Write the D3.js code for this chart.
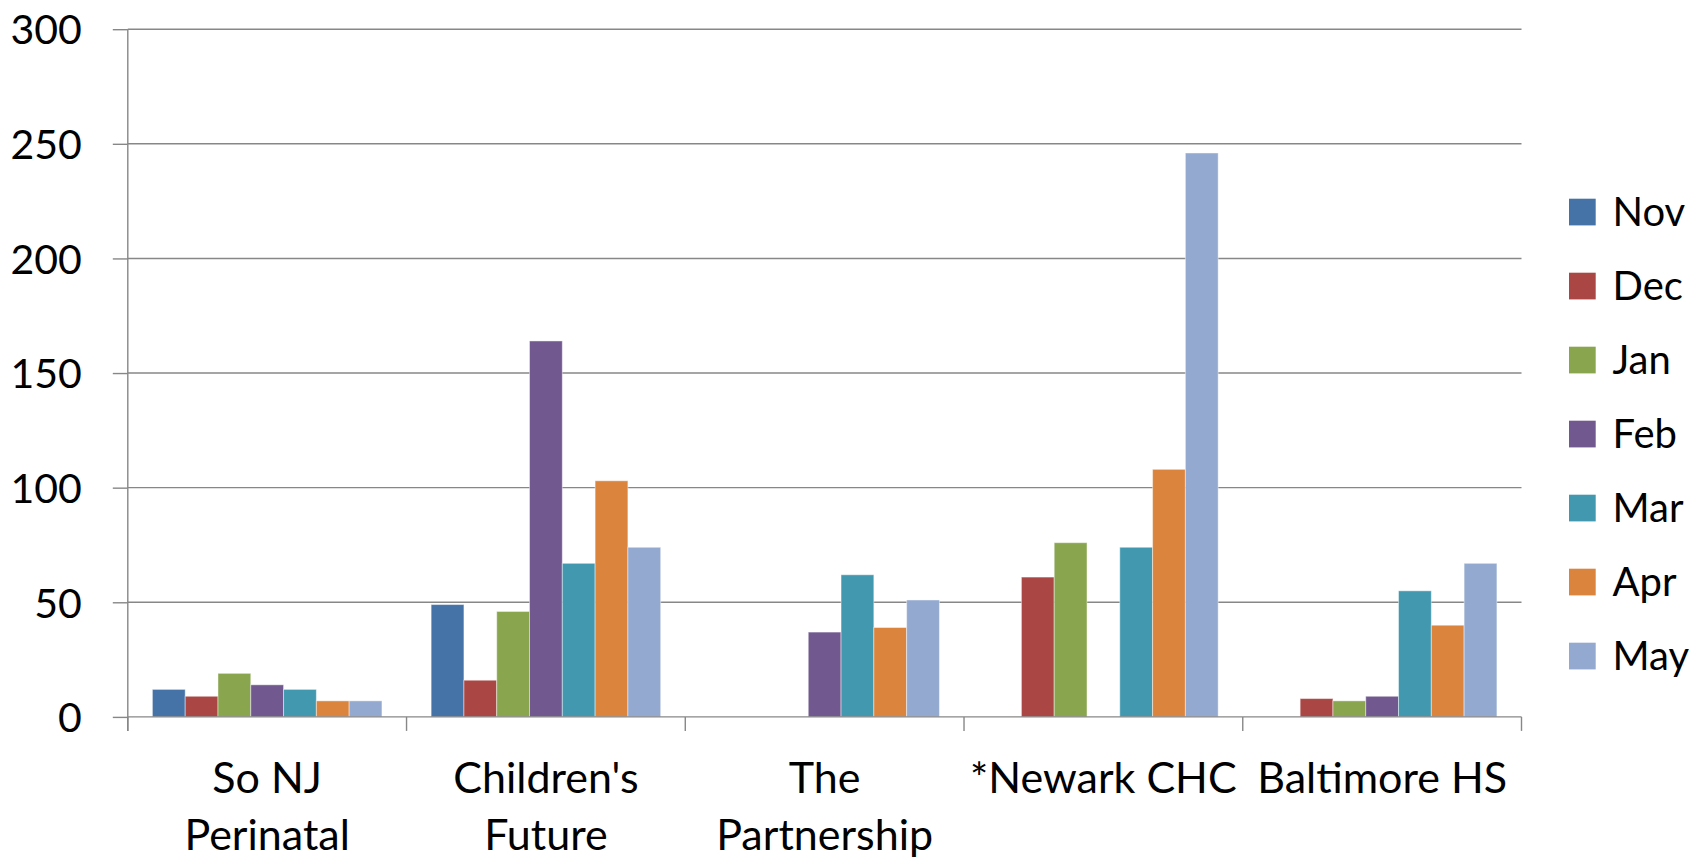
<!DOCTYPE html>
<html>
<head>
<meta charset="utf-8">
<script src="https://cdn.jsdelivr.net/npm/d3@7"></script>
<style>
  html, body { margin: 0; padding: 0; background: #ffffff; }
  svg { display: block; }
  text { font-family: Lato, "Open Sans", sans-serif; fill: #000; }
</style>
</head>
<body>
<svg id="chart" width="1698" height="860"></svg>
<script>
// Sites shown along the x axis (each label may wrap onto two lines)
const sites = ["So NJ Perinatal", "Children's Future", "The Partnership", "*Newark CHC", "Baltimore HS"];
const siteLines = [["So NJ", "Perinatal"], ["Children's", "Future"], ["The", "Partnership"], ["*Newark CHC"], ["Baltimore HS"]];

// Months (series), in legend order
const months = ["Nov", "Dec", "Jan", "Feb", "Mar", "Apr", "May"];
const monthColors = ["#4572A7", "#AA4643", "#89A54E", "#71588F", "#4198AF", "#DB843D", "#93A9CF"];

// Values per month, one entry per site (null = no bar reported)
const nov = [12, 49, null, null, null];
const dec = [9, 16, null, 61, 8];
const jan = [19, 46, null, 76, 7];
const feb = [14, 164, 37, null, 9];
const mar = [12, 67, 62, 74, 55];
const apr = [7, 103, 39, 108, 40];
const may = [7, 74, 51, 246, 67];
const seriesValues = [nov, dec, jan, feb, mar, apr, may];

const yTicks = [0, 50, 100, 150, 200, 250, 300];

const svg = d3.select("#chart");
const plot = { left: 127.8, right: 1521.5, top: 29.2, bottom: 716.9 };

const x0 = d3.scaleBand().domain(sites).range([plot.left, plot.right]).paddingInner(0).paddingOuter(0);
const catW = x0.bandwidth();
const gap = catW * 0.75 / 8.5;
const x1 = d3.scaleBand().domain(months).range([gap, catW - gap]).paddingInner(0).paddingOuter(0);
const y = d3.scaleLinear().domain([0, 300]).range([plot.bottom, plot.top]);

const gridColor = "#878787";

// Horizontal gridlines
svg.append("g")
  .selectAll("line")
  .data(yTicks.filter(t => t > 0))
  .join("line")
  .attr("x1", plot.left).attr("x2", plot.right)
  .attr("y1", d => y(d)).attr("y2", d => y(d))
  .attr("stroke", gridColor).attr("stroke-width", 1.4);

// Y axis with outside ticks
const yAxis = d3.axisLeft(y).tickValues(yTicks).tickSize(15).tickPadding(31).tickFormat(d3.format("d"));
const gy = svg.append("g").attr("transform", `translate(${plot.left},0)`).call(yAxis);
gy.select(".domain").remove();
gy.selectAll(".tick line").attr("stroke", gridColor).attr("stroke-width", 1.4);
gy.selectAll(".tick text")
  .attr("font-family", "Lato, sans-serif")
  .attr("font-size", 41)
  .attr("fill", "#000")
  .attr("dy", "0.36em");
svg.append("line")
  .attr("x1", plot.left).attr("x2", plot.left)
  .attr("y1", plot.top).attr("y2", plot.bottom + 14)
  .attr("stroke", gridColor).attr("stroke-width", 1.4);

// Bars
const barData = [];
sites.forEach((s, i) => {
  months.forEach((m, j) => {
    const v = seriesValues[j][i];
    if (v !== null) barData.push({ site: s, month: m, value: v, color: monthColors[j] });
  });
});
svg.append("g")
  .selectAll("rect")
  .data(barData)
  .join("rect")
  .attr("x", d => x0(d.site) + x1(d.month))
  .attr("y", d => y(d.value))
  .attr("width", x1.bandwidth())
  .attr("height", d => y(0) - y(d.value))
  .attr("fill", d => d.color)
  .attr("stroke", "rgba(255,255,255,0.45)")
  .attr("stroke-width", 1);

// X axis baseline and category separators
svg.append("line")
  .attr("x1", plot.left).attr("x2", plot.right)
  .attr("y1", y(0)).attr("y2", y(0))
  .attr("stroke", gridColor).attr("stroke-width", 1.4);
const bounds = sites.map(s => x0(s)).concat([plot.right]);
svg.append("g")
  .selectAll("line")
  .data(bounds)
  .join("line")
  .attr("x1", d => d).attr("x2", d => d)
  .attr("y1", y(0)).attr("y2", y(0) + 14)
  .attr("stroke", gridColor).attr("stroke-width", 1.4);

// Category labels
const labels = svg.append("g")
  .selectAll("text")
  .data(sites)
  .join("text")
  .attr("x", d => x0(d) + catW / 2)
  .attr("y", 793)
  .attr("text-anchor", "middle")
  .attr("font-size", 43);
labels.each(function(d, i) {
  const t = d3.select(this);
  siteLines[i].forEach((ln, k) => {
    t.append("tspan")
      .attr("x", x0(d) + catW / 2)
      .attr("dy", k === 0 ? 0 : 57)
      .text(ln);
  });
});

// Legend
const legend = svg.append("g")
  .selectAll("g")
  .data(months)
  .join("g")
  .attr("transform", (d, i) => `translate(1569, ${212 + i * 74})`);
legend.append("rect")
  .attr("x", 0).attr("y", -13.3)
  .attr("width", 26.7).attr("height", 26.7)
  .attr("fill", (d, i) => monthColors[i]);
legend.append("text")
  .attr("x", 43.5).attr("y", 0)
  .attr("dy", "0.35em")
  .attr("font-size", 40)
  .text(d => d);
</script>
</body>
</html>
